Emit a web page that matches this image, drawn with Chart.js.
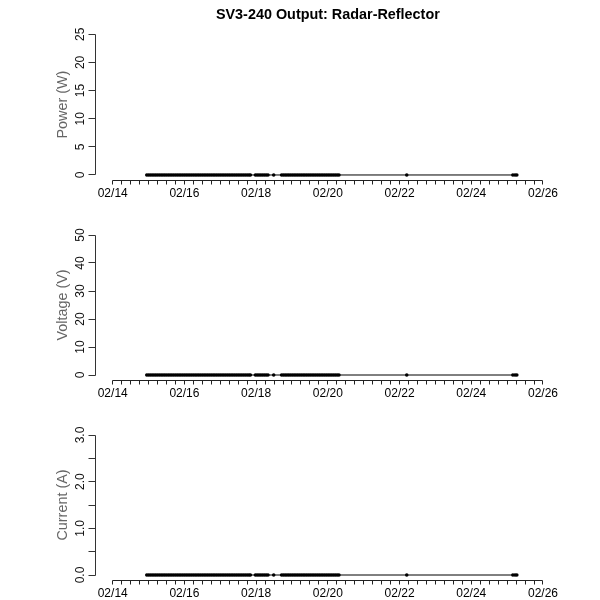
<!DOCTYPE html>
<html>
<head>
<meta charset="utf-8">
<title>SV3-240 Output: Radar-Reflector</title>
<script src="https://cdn.jsdelivr.net/npm/chart.js@4.4.1/dist/chart.umd.min.js"></script>
<style>
  html, body { margin: 0; padding: 0; background: #fff; }
  canvas { display: block; }
</style>
</head>
<body>
<canvas id="powerChart" width="600" height="200"></canvas>
<canvas id="voltageChart" width="600" height="200"></canvas>
<canvas id="currentChart" width="600" height="200"></canvas>
<script>
// Título general del gráfico
const chartTitle = 'SV3-240 Output: Radar-Reflector';

// Instantes de medición, en días de febrero (15.5 = 02/15 12:00)
const sampleDays = [
    14.95, 15.00, 15.05, 15.10, 15.15, 15.20, 15.25, 15.30, 15.35, 15.40,
    15.45, 15.50, 15.55, 15.60, 15.65, 15.70, 15.75, 15.80, 15.85, 15.90,
    15.95, 16.00, 16.05, 16.10, 16.15, 16.20, 16.25, 16.30, 16.35, 16.40,
    16.45, 16.50, 16.55, 16.60, 16.65, 16.70, 16.75, 16.80, 16.85, 16.90,
    16.95, 17.00, 17.05, 17.10, 17.15, 17.20, 17.25, 17.30, 17.35, 17.40,
    17.45, 17.50, 17.55, 17.60, 17.65, 17.70, 17.75, 17.80, 17.84,
    17.98, 18.03, 18.08, 18.13, 18.18, 18.23, 18.28, 18.33,
    18.49,
    18.71, 18.76, 18.81, 18.86, 18.91, 18.96, 19.01, 19.06, 19.11, 19.16,
    19.21, 19.26, 19.31, 19.36, 19.41, 19.46, 19.51, 19.56, 19.61, 19.66,
    19.71, 19.76, 19.81, 19.86, 19.91, 19.96, 20.01, 20.06, 20.11, 20.16,
    20.21, 20.26, 20.31,
    22.20, 25.16, 25.22, 25.27
];

// Valores medidos (todos en cero)
const powerW = [
    0,0,0,0,0,0,0,0,0,0,0,0,0,0,0,0,0,0,0,0,0,
    0,0,0,0,0,0,0,0,0,0,0,0,0,0,0,0,0,0,0,0,0,
    0,0,0,0,0,0,0,0,0,0,0,0,0,0,0,0,0,0,0,0,0,
    0,0,0,0,0,0,0,0,0,0,0,0,0,0,0,0,0,0,0,0,0,
    0,0,0,0,0,0,0,0,0,0,0,0,0,0,0,0,0,0,0,0,0
];
const voltageV = [
    0,0,0,0,0,0,0,0,0,0,0,0,0,0,0,0,0,0,0,0,0,
    0,0,0,0,0,0,0,0,0,0,0,0,0,0,0,0,0,0,0,0,0,
    0,0,0,0,0,0,0,0,0,0,0,0,0,0,0,0,0,0,0,0,0,
    0,0,0,0,0,0,0,0,0,0,0,0,0,0,0,0,0,0,0,0,0,
    0,0,0,0,0,0,0,0,0,0,0,0,0,0,0,0,0,0,0,0,0
];
const currentA = [
    0,0,0,0,0,0,0,0,0,0,0,0,0,0,0,0,0,0,0,0,0,
    0,0,0,0,0,0,0,0,0,0,0,0,0,0,0,0,0,0,0,0,0,
    0,0,0,0,0,0,0,0,0,0,0,0,0,0,0,0,0,0,0,0,0,
    0,0,0,0,0,0,0,0,0,0,0,0,0,0,0,0,0,0,0,0,0,
    0,0,0,0,0,0,0,0,0,0,0,0,0,0,0,0,0,0,0,0,0
];

// Etiquetas del eje X (cada dos días) y rango
const xLabelDays = [14, 16, 18, 20, 22, 24, 26];
const xLabels = ['02/14', '02/16', '02/18', '02/20', '02/22', '02/24', '02/26'];

// Marcas y etiquetas de cada eje Y
const powerTicks = [0, 5, 10, 15, 20, 25];
const powerLabels = ['0', '5', '10', '15', '20', '25'];
const voltageTicks = [0, 10, 20, 30, 40, 50];
const voltageLabels = ['0', '10', '20', '30', '40', '50'];
const currentTicks = [0, 0.5, 1, 1.5, 2, 2.5, 3];
const currentLabels = ['0.0', '', '1.0', '', '2.0', '', '3.0'];

const fontFamily = '"Liberation Sans", Arial, Helvetica, sans-serif';

// Ajusta una coordenada al medio píxel para líneas nítidas
const crisp = (v) => Math.round(v - 0.5) + 0.5;

// Plugin que dibuja los ejes al estilo R (separados del área de datos)
const rAxesPlugin = {
    id: 'rAxes',
    afterDraw(chart, args, opts) {
        const { ctx, chartArea } = chart;
        const x = chart.scales.x;
        const y = chart.scales.y;
        ctx.save();
        ctx.lineWidth = 1;

        // Eje Y: línea entre la primera y la última marca
        const yAxisX = crisp(chartArea.left);
        ctx.strokeStyle = '#333';
        ctx.beginPath();
        ctx.moveTo(yAxisX, crisp(y.getPixelForValue(opts.yTicks[0])));
        ctx.lineTo(yAxisX, crisp(y.getPixelForValue(opts.yTicks[opts.yTicks.length - 1])));
        opts.yTicks.forEach(v => {
            const p = crisp(y.getPixelForValue(v));
            ctx.moveTo(yAxisX, p);
            ctx.lineTo(yAxisX - 7, p);
        });
        ctx.stroke();

        // Etiquetas del eje Y, giradas como en R
        ctx.fillStyle = '#111';
        ctx.font = '12px ' + fontFamily;
        ctx.textAlign = 'center';
        ctx.textBaseline = 'middle';
        opts.yTicks.forEach((v, i) => {
            if (!opts.yLabels[i]) return;
            ctx.save();
            ctx.translate(chartArea.left - 15, y.getPixelForValue(v));
            ctx.rotate(-Math.PI / 2);
            ctx.fillText(opts.yLabels[i], 0, 0);
            ctx.restore();
        });

        // Título del eje Y en gris
        ctx.save();
        ctx.fillStyle = '#666';
        ctx.font = '14.4px ' + fontFamily;
        ctx.translate(chartArea.left - 32, (y.getPixelForValue(opts.yTicks[0]) + y.getPixelForValue(opts.yTicks[opts.yTicks.length - 1])) / 2);
        ctx.rotate(-Math.PI / 2);
        ctx.fillText(opts.yTitle, 0, 0);
        ctx.restore();

        // Eje X: línea en el borde inferior, marcas cada 6 horas
        const xAxisY = crisp(chartArea.bottom);
        const first = xLabelDays[0];
        const last = xLabelDays[xLabelDays.length - 1];
        ctx.strokeStyle = '#222';
        ctx.beginPath();
        ctx.moveTo(crisp(x.getPixelForValue(first)), xAxisY);
        ctx.lineTo(crisp(x.getPixelForValue(last)), xAxisY);
        for (let d = first; d <= last + 1e-9; d += 0.25) {
            const p = crisp(x.getPixelForValue(d));
            ctx.moveTo(p, xAxisY);
            ctx.lineTo(p, xAxisY + 4);
        }
        ctx.stroke();

        // Etiquetas del eje X
        ctx.fillStyle = '#000';
        ctx.font = '12px ' + fontFamily;
        ctx.textAlign = 'center';
        ctx.textBaseline = 'middle';
        xLabelDays.forEach((d, i) => {
            ctx.fillText(xLabels[i], x.getPixelForValue(d), chartArea.bottom + 13);
        });

        ctx.restore();
    }
};

// Crea uno de los tres paneles
const makePanel = (canvasId, values, yTicks, yLabels, yTitle, withTitle) => {
    const yMin = yTicks[0];
    const yMax = yTicks[yTicks.length - 1];
    const yPad = (yMax - yMin) * 0.04; // margen del 4% como en R
    const xPad = (xLabelDays[xLabelDays.length - 1] - xLabelDays[0]) * 0.04;

    const points = sampleDays.map((d, i) => ({ x: d, y: values[i] }));

    return new Chart(document.getElementById(canvasId), {
        type: 'line',
        data: {
            datasets: [{
                data: points,
                borderColor: '#000',
                borderWidth: 1,
                pointRadius: 1.8,
                pointBackgroundColor: '#000',
                pointBorderWidth: 0,
                tension: 0,
                fill: false
            }]
        },
        options: {
            responsive: false,
            animation: false,
            events: [],
            layout: {
                padding: { left: 95.5, right: 39.8, top: withTitle ? 5 : 29.4, bottom: 19.4 }
            },
            scales: {
                x: {
                    type: 'linear',
                    display: false,
                    min: xLabelDays[0] - xPad,
                    max: xLabelDays[xLabelDays.length - 1] + xPad
                },
                y: {
                    type: 'linear',
                    display: false,
                    min: yMin - yPad,
                    max: yMax + yPad
                }
            },
            plugins: {
                legend: { display: false },
                tooltip: { enabled: false },
                title: {
                    display: withTitle,
                    text: chartTitle,
                    color: '#000',
                    font: { family: fontFamily, size: 14.4, weight: 'bold' },
                    padding: { top: 1.4, bottom: 5 }
                },
                rAxes: { yTicks, yLabels, yTitle }
            }
        },
        plugins: [rAxesPlugin]
    });
};

makePanel('powerChart', powerW, powerTicks, powerLabels, 'Power (W)', true);
makePanel('voltageChart', voltageV, voltageTicks, voltageLabels, 'Voltage (V)', false);
makePanel('currentChart', currentA, currentTicks, currentLabels, 'Current (A)', false);
</script>
</body>
</html>
